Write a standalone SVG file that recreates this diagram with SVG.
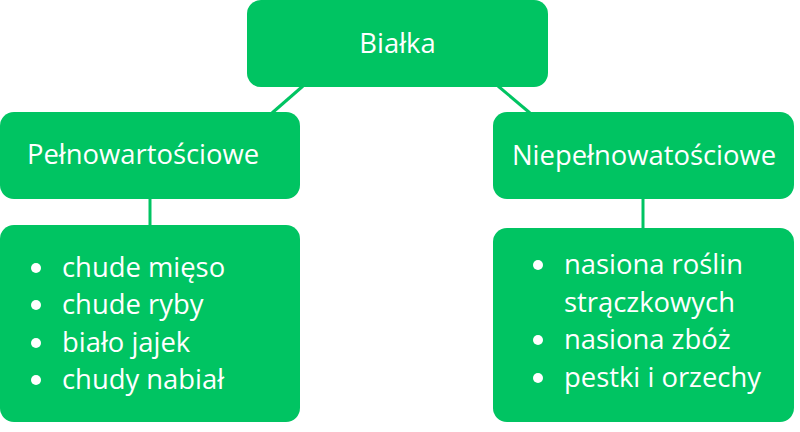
<svg xmlns="http://www.w3.org/2000/svg" width="800" height="432" viewBox="0 0 800 432">
<style>
.box{fill:#00c462}
.t{font-family:"Open Sans","Noto Sans",sans-serif;fill:#ffffff;font-size:27.4px}
.c{stroke:#00c462;stroke-width:3;fill:none}
.b{fill:#ffffff}
</style>
<rect width="800" height="432" fill="#ffffff"/>
<g id="connectors">
<line class="c" x1="303" y1="86" x2="272" y2="113"/>
<line class="c" x1="498" y1="86" x2="530" y2="113"/>
<line class="c" x1="150" y1="198" x2="150" y2="227"/>
<line class="c" x1="643" y1="198" x2="643" y2="229"/>
</g>
<g id="n-bialka">
<rect class="box" x="247" y="0" width="301" height="87" rx="14"/>
<text class="t" x="397.5" y="53" text-anchor="middle">Białka</text>
</g>
<g id="n-pelno">
<rect class="box" x="0" y="112" width="300" height="87" rx="14"/>
<text class="t" x="27" y="164">Pełnowartościowe</text>
</g>
<g id="n-niepelno">
<rect class="box" x="493" y="112" width="301" height="87" rx="14"/>
<text class="t" x="512" y="165">Niepełnowatościowe</text>
</g>
<g id="n-list-left">
<rect class="box" x="0" y="225" width="300" height="197" rx="14"/>
<circle class="b" cx="36" cy="268" r="5"/>
<circle class="b" cx="36" cy="305" r="5"/>
<circle class="b" cx="36" cy="343" r="5"/>
<circle class="b" cx="36" cy="380" r="5"/>
<text class="t" x="62" y="277">chude mięso</text>
<text class="t" x="62" y="314">chude ryby</text>
<text class="t" x="62" y="352">biało jajek</text>
<text class="t" x="62" y="389">chudy nabiał</text>
</g>
<g id="n-list-right">
<rect class="box" x="493" y="228" width="301" height="194" rx="14"/>
<circle class="b" cx="538" cy="265" r="5"/>
<circle class="b" cx="538" cy="340" r="5"/>
<circle class="b" cx="538" cy="378" r="5"/>
<text class="t" x="564" y="274">nasiona roślin</text>
<text class="t" x="564" y="312">strączkowych</text>
<text class="t" x="564" y="349">nasiona zbóż</text>
<text class="t" x="564" y="387">pestki i orzechy</text>
</g>
</svg>
